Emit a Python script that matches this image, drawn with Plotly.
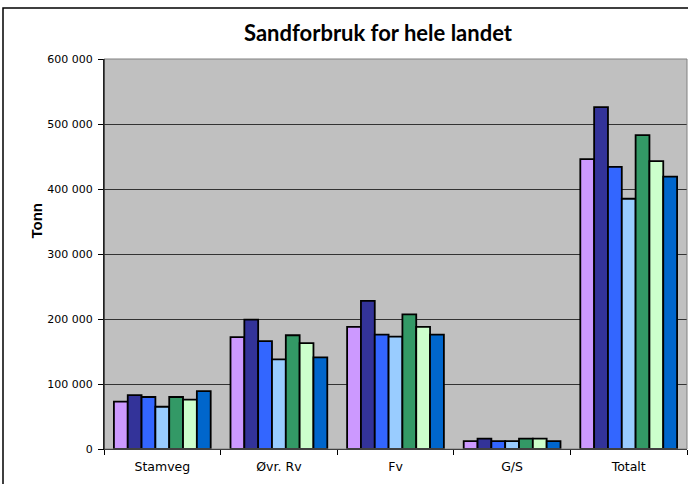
import plotly.graph_objects as go

categories = ["Stamveg", "Øvr. Rv", "Fv", "G/S", "Totalt"]
series_names = ["Serie 1", "Serie 2", "Serie 3", "Serie 4", "Serie 5", "Serie 6", "Serie 7"]
s1 = [73000, 172000, 188000, 12000, 446000]
s2 = [83000, 199000, 228000, 16000, 526000]
s3 = [80000, 166000, 176000, 12000, 434000]
s4 = [65000, 138000, 173000, 12000, 385000]
s5 = [80000, 175000, 207000, 16000, 483000]
s6 = [76000, 163000, 188000, 16000, 443000]
s7 = [89000, 141000, 176000, 12000, 419000]
series_values = [s1, s2, s3, s4, s5, s6, s7]
colors = ["#CC99FF", "#333399", "#3366FF", "#99CCFF", "#339966", "#CCFFCC", "#0066CC"]

tick_vals = [0, 100000, 200000, 300000, 400000, 500000, 600000]
tick_text = ["0", "100 000", "200 000", "300 000", "400 000", "500 000", "600 000"]

fig = go.Figure()
for name, vals, col in zip(series_names, series_values, colors):
    fig.add_trace(go.Bar(x=categories, y=vals, name=name,
                         marker=dict(color=col, line=dict(color="black", width=1.8))))

W, H = 688, 484
L, R, T, B = 104, 687, 59, 449

def px_x(p):
    return (p - L) / (R - L)

def px_y(p):
    return (B - p) / (B - T)

fig.update_layout(
    width=W, height=H,
    margin=dict(l=L, r=W - R, t=T, b=H - B, autoexpand=False),
    paper_bgcolor="white",
    plot_bgcolor="#C0C0C0",
    barmode="group",
    bargap=0.17,
    bargroupgap=0,
    showlegend=False,
    title=dict(text="<b>Sandforbruk for hele landet</b>",
               font=dict(family="Lato", size=22, color="black"),
               x=px_x(378), xref="paper", xanchor="center",
               y=1 - 33 / H, yref="container", yanchor="middle"),
    font=dict(family="DejaVu Sans", color="black"),
    xaxis=dict(tickson="boundaries", ticks="outside", ticklen=5, tickcolor="black",
               showline=True, linecolor="black", linewidth=1, mirror=False,
               tickfont=dict(size=12.5), showgrid=False, ticklabelstandoff=6,
               automargin=False),
    yaxis=dict(range=[0, 600000], tickvals=tick_vals, ticktext=tick_text,
               ticks="outside", ticklen=5, tickcolor="black",
               showline=True, linecolor="black", linewidth=1,
               tickfont=dict(size=11), ticklabelstandoff=3,
               showgrid=True, gridcolor="#333333", gridwidth=1,
               zeroline=False, automargin=False),
    annotations=[dict(text="<b>Tonn</b>", x=px_x(25), y=px_y(221), xref="paper", yref="paper",
                      textangle=-90, showarrow=False,
                      font=dict(family="Liberation Sans, Arial", size=15, color="black"))],
    shapes=[
        dict(type="rect", xref="paper", yref="paper",
             x0=px_x(L), x1=px_x(R), y0=0, y1=1,
             line=dict(color="#808080", width=1), layer="above"),
        dict(type="line", xref="paper", yref="paper",
             x0=px_x(L), x1=px_x(L), y0=0, y1=1,
             line=dict(color="black", width=1), layer="above"),
        dict(type="rect", xref="paper", yref="paper",
             x0=px_x(3), x1=px_x(700), y0=px_y(8), y1=px_y(500),
             line=dict(color="black", width=1.5)),
    ],
)

fig.write_html("out.html", config={"displayModeBar": False},
               post_script="document.body.style.margin='0';document.body.style.padding='0';")
